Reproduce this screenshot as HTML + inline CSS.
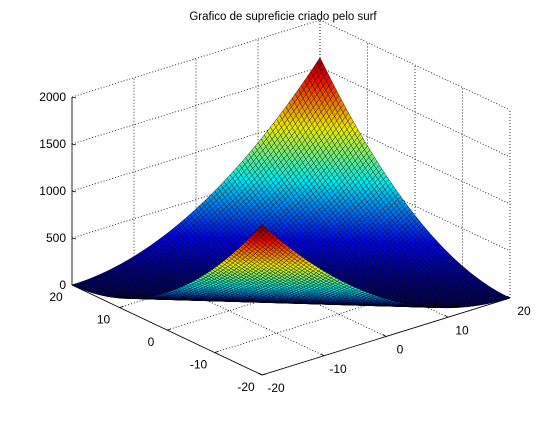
<!DOCTYPE html>
<html><head><meta charset="utf-8"><style>
body{margin:0;background:#fff;}
svg text{font-family:"Liberation Sans",sans-serif;font-size:12px;fill:#000;}
</style></head><body>
<svg id="chart" width="560" height="420" viewBox="0 0 560 420" xmlns="http://www.w3.org/2000/svg">
<rect width="560" height="420" fill="#fff"/>
<text x="283" y="20" text-anchor="middle" style="font-size:11.5px">Grafico de supreficie criado pelo surf</text>
<g id="grid"></g>
<g id="surf"></g>
<g id="axes"></g>
</svg>
<script>
const xTicks = [-20, -10, 0, 10, 20];
const yTicks = [-20, -10, 0, 10, 20];
const zTicks = [0, 500, 1000, 1500, 2000];
const gridVals = [];
for (let i = 0; i <= 80; i++) gridVals.push(-20 + i * 0.5);
function zFn(x, y) { return (x + y) * (x + y); }
const zMaxColor = 1600;

const O = [262, 375], EX = [248, -77], EY = [-190, -90], EZ = [0, -188];
function P(x, y, z) {
  const a = (x + 20) / 40, b = (y + 20) / 40, c = z / 2000;
  return [O[0] + a * EX[0] + b * EY[0] + c * EZ[0], O[1] + a * EX[1] + b * EY[1] + c * EZ[1]];
}
const NS = 'http://www.w3.org/2000/svg';
function line(g, p, q, dotted, name) {
  const l = document.createElementNS(NS, 'line');
  l.setAttribute('x1', p[0].toFixed(1)); l.setAttribute('y1', p[1].toFixed(1));
  l.setAttribute('x2', q[0].toFixed(1)); l.setAttribute('y2', q[1].toFixed(1));
  l.setAttribute('stroke', '#000'); l.setAttribute('stroke-width', '0.8');
  if (dotted) l.setAttribute('stroke-dasharray', '1 2');
  
  
  g.appendChild(l);
}
function text(g, p, s, anchor, name) {
  const t = document.createElementNS(NS, 'text');
  t.setAttribute('x', p[0].toFixed(1)); t.setAttribute('y', p[1].toFixed(1));
  t.setAttribute('text-anchor', anchor);
  t.textContent = s;
  
  
  g.appendChild(t);
}
const grid = document.getElementById('grid');
xTicks.forEach(x => {
  line(grid, P(x, -20, 0), P(x, 20, 0), true, 'floor-grid-x');
  line(grid, P(x, 20, 0), P(x, 20, 2000), true, 'wall-grid-x');
});
yTicks.forEach(y => {
  line(grid, P(-20, y, 0), P(20, y, 0), true, 'floor-grid-y');
  line(grid, P(20, y, 0), P(20, y, 2000), true, 'wall-grid-y');
});
zTicks.forEach(z => {
  line(grid, P(-20, 20, z), P(20, 20, z), true, 'wall-grid-z');
  line(grid, P(20, 20, z), P(20, -20, z), true, 'wall-grid-z');
});

function jet(t) {
  t = Math.max(0, Math.min(1, t));
  const r = Math.max(0, Math.min(1, 1.5 - Math.abs(4 * t - 3)));
  const g = Math.max(0, Math.min(1, 1.5 - Math.abs(4 * t - 2)));
  const b = Math.max(0, Math.min(1, 1.5 - Math.abs(4 * t - 1)));
  return 'rgb(' + Math.round(r * 235) + ',' + Math.round(g * 235) + ',' + Math.round(b * 235) + ')';
}
const surf = document.getElementById('surf');
const cells = [];
const n = gridVals.length;
for (let i = 0; i < n - 1; i++) for (let j = 0; j < n - 1; j++) cells.push([i, j]);
cells.sort((a, b) => (b[0] + b[1]) - (a[0] + a[1]));
let frag = document.createDocumentFragment();
cells.forEach(([i, j]) => {
  const x0 = gridVals[i], x1 = gridVals[i + 1], y0 = gridVals[j], y1 = gridVals[j + 1];
  const pts = [P(x0, y0, zFn(x0, y0)), P(x1, y0, zFn(x1, y0)), P(x1, y1, zFn(x1, y1)), P(x0, y1, zFn(x0, y1))];
  const pg = document.createElementNS(NS, 'polygon');
  pg.setAttribute('points', pts.map(p => p[0].toFixed(1) + ',' + p[1].toFixed(1)).join(' '));
  pg.setAttribute('fill', jet(zFn(x0, y0) / zMaxColor));
  pg.setAttribute('stroke', '#000');
  pg.setAttribute('stroke-width', '0.45');
  pg.setAttribute('stroke-opacity', '0.85');
  
  
  frag.appendChild(pg);
});
surf.appendChild(frag);

const axes = document.getElementById('axes');
line(axes, P(-20, 20, 0), P(-20, 20, 2000), false, 'z-axis');
line(axes, P(-20, 20, 0), P(-20, -20, 0), false, 'y-axis');
line(axes, P(-20, -20, 0), P(20, -20, 0), false, 'x-axis');
zTicks.forEach(z => {
  const p = P(-20, 20, z);
  line(axes, p, [p[0] + 4, p[1] + 1], false, 'z-tick');
  text(axes, [p[0] - 6, p[1] + 4], String(z), 'end', 'z-tick-label');
});
yTicks.forEach(y => {
  const p = P(-20, y, 0);
  line(axes, p, [p[0] + 4, p[1] - 1], false, 'y-tick');
  text(axes, [p[0] - 16, p[1] + 16], String(y), 'middle', 'y-tick-label');
});
xTicks.forEach(x => {
  const p = P(x, -20, 0);
  line(axes, p, [p[0] - 3, p[1] - 2], false, 'x-tick');
  text(axes, [p[0] + 14, p[1] + 17], String(x), 'middle', 'x-tick-label');
});
</script>
</body></html>
